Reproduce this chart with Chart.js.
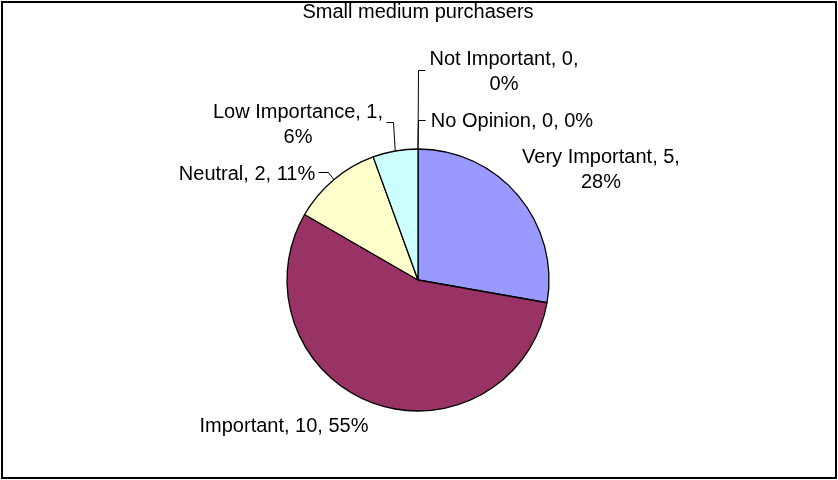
<!DOCTYPE html>
<html>
<head>
<meta charset="utf-8">
<title>Small medium purchasers</title>
<script src="https://cdn.jsdelivr.net/npm/chart.js@4/dist/chart.umd.min.js"></script>
<style>
  body { margin: 0; background: #fff; }
  canvas { display: block; }
</style>
</head>
<body>
<canvas id="pie-chart" width="838" height="480"></canvas>
<script>
// dados
const categories = ['Very Important', 'Important', 'Neutral', 'Low Importance', 'Not Important', 'No Opinion'];
const answers = [5, 10, 2, 1, 0, 0];
const percents = [28, 55, 11, 6, 0, 0];
const colors = ['#9999FF', '#993366', '#FFFFCC', '#CCFFFF', '#660066', '#FF8080'];

// posição dos rótulos (centro do texto, linha de base) e cotovelo da linha guia
const labelLayout = [
  { x: 601, y: 163, wrap: true,  leader: null },
  { x: 284, y: 432, wrap: false, leader: null },
  { x: 247, y: 180, wrap: false, leader: [[318, 172], [328, 172]] },
  { x: 298, y: 118, wrap: true,  leader: [[386, 122], [393, 122]] },
  { x: 504, y: 65,  wrap: true,  leader: [[425, 70], [418, 70]] },
  { x: 512, y: 127, wrap: false, leader: [[425, 120], [418, 120]] }
];

const FONT = '"Liberation Sans", Arial, sans-serif';

const frame = {
  id: 'frame',
  beforeDraw(chart) {
    const c = chart.ctx;
    c.save();
    c.fillStyle = '#fff';
    c.fillRect(0, 0, chart.width, chart.height);
    c.restore();
  },
  afterDraw(chart) {
    const c = chart.ctx;
    c.save();
    c.strokeStyle = '#000';
    c.lineWidth = 2;
    c.strokeRect(2, 2, chart.width - 4, chart.height - 4);
    c.restore();
  }
};

const pieLabels = {
  id: 'pieLabels',
  afterDatasetsDraw(chart) {
    const c = chart.ctx;
    const arcs = chart.getDatasetMeta(0).data;
    c.save();
    c.font = '20px ' + FONT;
    c.fillStyle = '#000';
    c.strokeStyle = '#000';
    c.lineWidth = 1;
    c.textAlign = 'center';
    c.textBaseline = 'alphabetic';
    arcs.forEach((arc, i) => {
      const lay = labelLayout[i];
      const p = arc.getProps(['x', 'y', 'startAngle', 'endAngle', 'outerRadius'], true);
      const mid = (p.startAngle + p.endAngle) / 2;
      const ax = p.x + Math.cos(mid) * p.outerRadius;
      const ay = p.y + Math.sin(mid) * p.outerRadius;
      if (lay.leader) {
        c.beginPath();
        c.moveTo(lay.leader[0][0] + 0.5, lay.leader[0][1] + 0.5);
        for (let k = 1; k < lay.leader.length; k++) {
          c.lineTo(lay.leader[k][0] + 0.5, lay.leader[k][1] + 0.5);
        }
        c.lineTo(ax, ay);
        c.stroke();
      }
      const head = categories[i] + ', ' + answers[i] + ',';
      const tail = percents[i] + '%';
      if (lay.wrap) {
        c.fillText(head, lay.x, lay.y);
        c.fillText(tail, lay.x, lay.y + 25);
      } else {
        c.fillText(head + ' ' + tail, lay.x, lay.y);
      }
    });
    c.restore();
  }
};

Chart.defaults.color = '#000';
Chart.defaults.font.family = FONT;

const ctx = document.getElementById('pie-chart');
const chart = new Chart(ctx, {
  type: 'pie',
  data: {
    labels: categories,
    datasets: [{
      data: answers,
      backgroundColor: colors,
      borderColor: '#000',
      borderWidth: 1.3,
      radius: 131
    }]
  },
  options: {
    responsive: false,
    animation: false,
    layout: { padding: { left: 0, right: 2, top: 0, bottom: 0 } },
    plugins: {
      legend: { display: false },
      tooltip: { enabled: false },
      title: {
        display: true,
        text: 'Small medium purchasers',
        color: '#000',
        font: { size: 20, weight: 'normal', family: FONT },
        padding: { top: 0, bottom: 56 }
      }
    }
  },
  plugins: [frame, pieLabels]
});
</script>
</body>
</html>
